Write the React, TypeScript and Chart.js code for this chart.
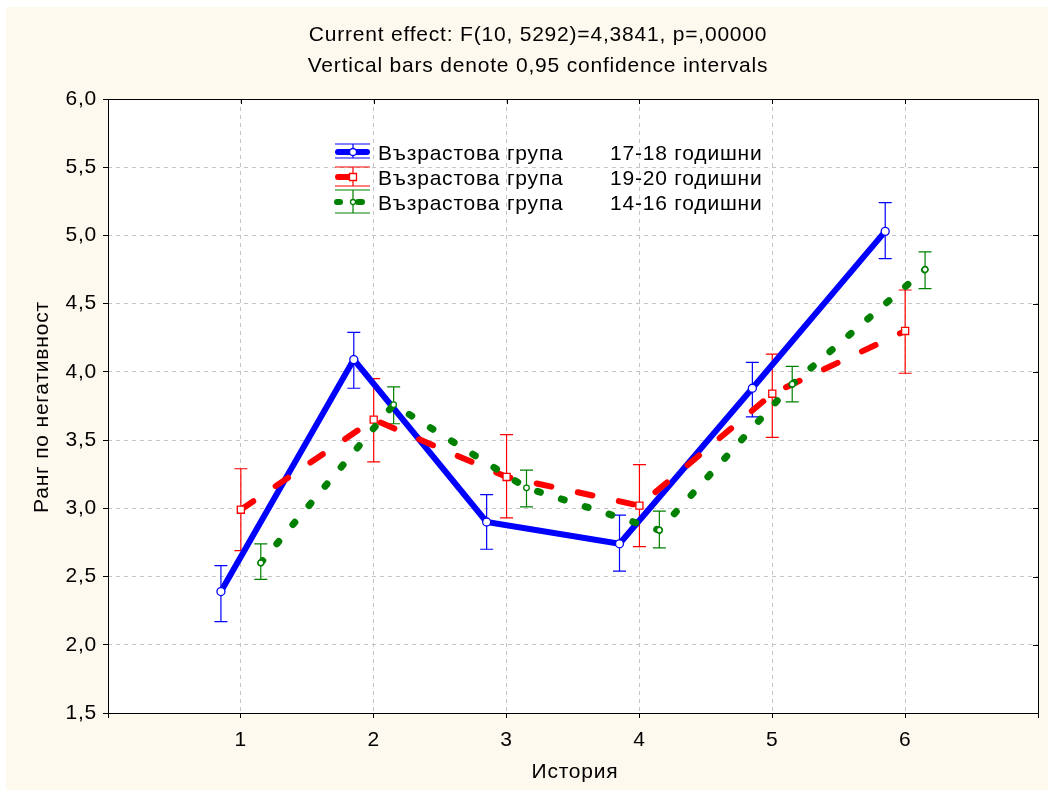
import React, { useEffect, useRef } from "react";
import { Chart, registerables } from "chart.js";

Chart.register(...registerables);

// ---- data ----
const categories = [1, 2, 3, 4, 5, 6];

const blueMeans = [2.39, 4.09, 2.9, 2.74, 3.88, 5.03];
const blueLow = [2.17, 3.88, 2.7, 2.54, 3.67, 4.83];
const blueHigh = [2.58, 4.29, 3.1, 2.95, 4.07, 5.24];

const redMeans = [2.99, 3.65, 3.23, 3.02, 3.84, 4.3];
const redLow = [2.69, 3.34, 2.93, 2.72, 3.52, 3.99];
const redHigh = [3.29, 3.95, 3.54, 3.32, 4.13, 4.6];

const greenMeans = [2.6, 3.76, 3.15, 2.84, 3.91, 4.75];
const greenLow = [2.48, 3.62, 3.01, 2.71, 3.78, 4.61];
const greenHigh = [2.74, 3.89, 3.28, 2.98, 4.04, 4.88];

const groupLabel = "Възрастова група";
const seriesNames = ["17-18 годишни", "19-20 годишни", "14-16 годишни"];
const titleLines = [
  "Current effect: F(10, 5292)=4,3841, p=,00000",
  "Vertical bars denote 0,95 confidence intervals",
];
const xTitle = "История";
const yTitle = "Ранг по негативност";

// ---- layout / style ----
const OX = 6;
const OY = 7;
const W = 1042;
const H = 783;
const FONT = "'Liberation Sans', Arial, sans-serif";
const FS = 21;
const LS = "0.8px";
const BLUE = "#0000ff";
const RED = "#ff0000";
const GREEN = "#008000";
const offsets = [-0.15, 0, 0.15];

const series = [
  { means: blueMeans, low: blueLow, high: blueHigh, color: BLUE },
  { means: redMeans, low: redLow, high: redHigh, color: RED },
  { means: greenMeans, low: greenLow, high: greenHigh, color: GREEN },
];

const fmt = (v: number) => v.toFixed(1).replace(".", ",");

export default function App() {
  const ref = useRef<HTMLCanvasElement | null>(null);

  useEffect(() => {
    if (!ref.current) return;

    const plugin = {
      id: "statStyle",
      beforeDraw(chart: any) {
        const { ctx, chartArea: a } = chart;
        (ctx as any).letterSpacing = LS;
        ctx.save();
        ctx.fillStyle = "#ffffff";
        ctx.fillRect(a.left, a.top, a.right - a.left, a.bottom - a.top);
        ctx.restore();
      },
      beforeDatasetsDraw(chart: any) {
        const { ctx } = chart;
        const xs = chart.scales.x;
        const ys = chart.scales.y;
        ctx.save();
        ctx.lineWidth = 1.2;
        series.forEach((s, si) => {
          ctx.strokeStyle = s.color;
          categories.forEach((c, i) => {
            const x = xs.getPixelForValue(c + offsets[si]);
            const y1 = ys.getPixelForValue(s.low[i]);
            const y2 = ys.getPixelForValue(s.high[i]);
            ctx.beginPath();
            ctx.moveTo(x, y1);
            ctx.lineTo(x, y2);
            ctx.moveTo(x - 6.5, y1);
            ctx.lineTo(x + 6.5, y1);
            ctx.moveTo(x - 6.5, y2);
            ctx.lineTo(x + 6.5, y2);
            ctx.stroke();
          });
        });
        ctx.restore();
      },
      afterDraw(chart: any) {
        const { ctx, chartArea: a } = chart;
        const xs = chart.scales.x;
        const ys = chart.scales.y;
        ctx.save();
        (ctx as any).letterSpacing = LS;
        // frame
        ctx.strokeStyle = "#000";
        ctx.lineWidth = 1;
        ctx.setLineDash([]);
        ctx.strokeRect(Math.round(a.left) + 0.5, Math.round(a.top) + 0.5, Math.round(a.right - a.left), Math.round(a.bottom - a.top));
        // inner ticks right & top
        ctx.beginPath();
        for (let v = 2; v < 6; v += 0.5) {
          const y = Math.round(ys.getPixelForValue(v)) + 0.5;
          ctx.moveTo(a.right, y);
          ctx.lineTo(a.right - 5, y);
        }
        for (let v = 1; v <= 6; v++) {
          const x = Math.round(xs.getPixelForValue(v)) + 0.5;
          ctx.moveTo(x, a.top);
          ctx.lineTo(x, a.top + 5);
        }
        ctx.stroke();

        // titles
        ctx.fillStyle = "#000";
        ctx.font = `${FS}px ${FONT}`;
        ctx.textAlign = "center";
        ctx.textBaseline = "middle";
        ctx.fillText(titleLines[0], 538 - OX, 35 - OY);
        ctx.fillText(titleLines[1], 538 - OX, 66 - OY);
        ctx.fillText(xTitle, 575 - OX, 772 - OY);
        ctx.save();
        ctx.translate(42 - OX, 407 - OY);
        ctx.rotate(-Math.PI / 2);
        ctx.fillText(yTitle, 0, 0);
        ctx.restore();

        // legend
        const rows = [152, 177, 202];
        const caps = [
          [144, 158],
          [167, 186],
          [190, 213],
        ];
        ctx.textAlign = "left";
        ctx.font = `${FS}px ${FONT}`;
        rows.forEach((ry, i) => {
          const y = ry - OY;
          const col = series[i].color;
          const cx = 353 - OX;
          // error bar symbol
          ctx.strokeStyle = col;
          ctx.lineWidth = 1.2;
          ctx.setLineDash([]);
          ctx.beginPath();
          ctx.moveTo(cx, caps[i][0] - OY);
          ctx.lineTo(cx, caps[i][1] - OY);
          ctx.moveTo(335 - OX, caps[i][0] - OY);
          ctx.lineTo(370 - OX, caps[i][0] - OY);
          ctx.moveTo(335 - OX, caps[i][1] - OY);
          ctx.lineTo(370 - OX, caps[i][1] - OY);
          ctx.stroke();
          ctx.lineCap = "round";
          ctx.lineWidth = 6;
          ctx.beginPath();
          if (i === 0) {
            ctx.moveTo(338 - OX, y);
            ctx.lineTo(367 - OX, y);
          } else if (i === 1) {
            ctx.moveTo(338 - OX, y);
            ctx.lineTo(350 - OX, y);
          } else {
            ctx.moveTo(337 - OX, y);
            ctx.lineTo(340 - OX, y);
            ctx.moveTo(358 - OX, y);
            ctx.lineTo(362 - OX, y);
          }
          ctx.stroke();
          ctx.lineCap = "butt";
          // marker
          ctx.lineWidth = 1.3;
          ctx.fillStyle = "#fff";
          ctx.beginPath();
          if (i === 0) {
            ctx.arc(cx, y, 3.5, 0, Math.PI * 2);
          } else if (i === 1) {
            ctx.rect(cx - 3.5, y - 3.5, 7, 7);
          } else {
            ctx.arc(cx, y, 2.5, 0, Math.PI * 2);
          }
          ctx.fill();
          ctx.stroke();
          ctx.fillStyle = "#000";
          ctx.fillText(groupLabel, 378 - OX, ry + 2 - OY);
          ctx.fillText(seriesNames[i], 610 - OX, ry + 2 - OY);
        });
        ctx.restore();
      },
    };

    const mk = (si: number) =>
      categories.map((c, i) => ({ x: c + offsets[si], y: series[si].means[i] }));

    const chart = new Chart(ref.current, {
      type: "scatter",
      data: {
        datasets: [
          {
            label: seriesNames[0],
            data: mk(0),
            showLine: true,
            borderColor: BLUE,
            borderWidth: 6,
            pointRadius: 4,
            pointStyle: "circle",
            pointBackgroundColor: "#fff",
            pointBorderColor: BLUE,
            pointBorderWidth: 1.3,
            order: 3,
          },
          {
            label: seriesNames[1],
            data: mk(1),
            showLine: true,
            borderColor: RED,
            borderWidth: 6,
            borderDash: [15, 27],
            borderCapStyle: "round",
            pointRadius: 5,
            pointStyle: "rect",
            pointBackgroundColor: "#fff",
            pointBorderColor: RED,
            pointBorderWidth: 1.3,
            order: 2,
          },
          {
            label: seriesNames[2],
            data: mk(2),
            showLine: true,
            borderColor: GREEN,
            borderWidth: 7,
            borderDash: [3, 22],
            borderCapStyle: "round",
            pointRadius: 2.8,
            pointStyle: "circle",
            pointBackgroundColor: "#fff",
            pointBorderColor: GREEN,
            pointBorderWidth: 1.3,
            order: 1,
          },
        ],
      },
      options: {
        responsive: false,
        animation: false,
        events: [],
        layout: { padding: { top: 92, right: 6, left: 0, bottom: 0 } },
        plugins: { legend: { display: false }, tooltip: { enabled: false }, title: { display: false } },
        scales: {
          x: {
            type: "linear",
            min: 0,
            max: 7,
            afterFit: (s: any) => {
              s.height = 77;
            },
            ticks: {
              stepSize: 1,
              color: "#000",
              font: { family: FONT, size: FS },
              padding: 10,
              maxRotation: 0,
              autoSkip: false,
              callback: (v: any) => (v >= 1 && v <= 6 ? String(v) : ""),
            },
            grid: { color: "#c4c4c4", tickColor: "#000", tickLength: 5, lineWidth: 1 },
            border: { display: false, dash: [4, 4] },
          },
          y: {
            type: "linear",
            min: 1.5,
            max: 6,
            afterFit: (s: any) => {
              s.width = 102;
            },
            ticks: {
              stepSize: 0.5,
              color: "#000",
              font: { family: FONT, size: FS },
              padding: 6,
              autoSkip: false,
              callback: (v: any) => fmt(Number(v)),
            },
            grid: { color: "#c4c4c4", tickColor: "#000", tickLength: 5, lineWidth: 1 },
            border: { display: false, dash: [4, 4] },
          },
        },
      },
      plugins: [plugin],
    } as any);

    return () => chart.destroy();
  }, []);

  return (
    <div
      style={{
        position: "absolute",
        left: OX,
        top: OY,
        width: W,
        height: H,
        background: "#fef9ee",
      }}
    >
      <canvas ref={ref} width={W} height={H} style={{ display: "block" }} />
    </div>
  );
}
